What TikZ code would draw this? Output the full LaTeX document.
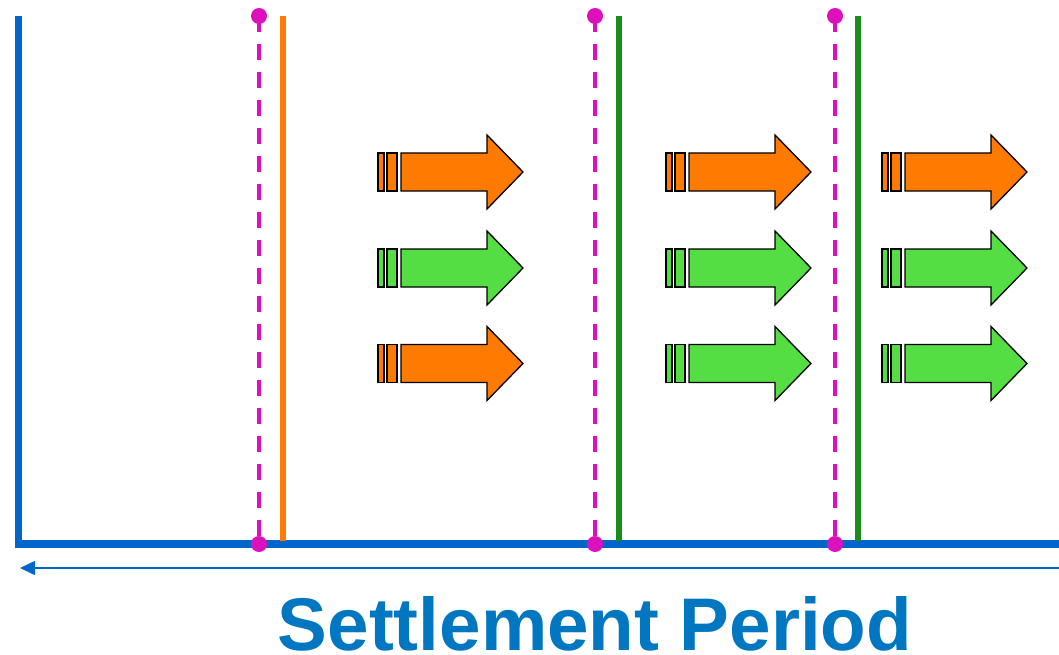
\documentclass[tikz,border=0pt]{standalone}
\usepackage{fontspec}
\setmainfont{Liberation Sans}
\usetikzlibrary{arrows.meta}

\definecolor{axisblue}{HTML}{0066CC}
\definecolor{titleblue}{HTML}{0077C0}
\definecolor{markmagenta}{HTML}{DD11BB}
\definecolor{cutorange}{HTML}{FF7A00}
\definecolor{cutgreen}{HTML}{1A8C1A}
\definecolor{floworange}{HTML}{FF7A00}
\definecolor{flowgreen}{HTML}{55DD44}

\tikzset{
  axis/.style={draw=axisblue, line width=7.5pt},
  timeline/.style={draw=axisblue, line width=1.6pt, -{Triangle[length=15pt,width=14pt]}},
  marker/.style={draw=markmagenta, line width=4pt, dash pattern=on 16pt off 12pt},
  markdot/.style={fill=markmagenta, draw=none},
  cutline/.style={line width=6pt},
  flowpart/.style={draw=black, line width=1.3pt, line join=miter},
  flow/.pic={
    \path[flowpart, fill=#1] (0,-19) rectangle (6,19);
    \path[flowpart, fill=#1] (9,-19) rectangle (19,19);
    \path[flowpart, fill=#1] (23,-19) -- (109,-19) -- (109,-37) -- (145,0)
      -- (109,37) -- (109,19) -- (23,19) -- cycle;
  },
  title/.style={text=titleblue, font=\fontsize{74.6}{74.6}\selectfont\bfseries,
    inner sep=0pt, text depth=0pt, anchor=base}
}

\begin{document}
\begin{tikzpicture}[x=1pt, y=-1pt]
  \useasboundingbox (0,0) rectangle (1059,655);

  % axes
  \coordinate (origin) at (18.5,544);
  \coordinate (top) at (18.5,16);
  \coordinate (right) at (1059,544);
  \draw[axis] (top) -- ([yshift=3.75pt]origin);
  \draw[axis] ([xshift=-3.75pt]origin) -- (right);

  % direction of the settlement period
  \coordinate (tlstart) at (1059,568);
  \coordinate (tlend) at (20,568);
  \draw[timeline] (tlstart) -- (tlend);

  % cut-off lines
  \foreach \x/\c in {283/cutorange, 619/cutgreen, 858/cutgreen} {
    \draw[cutline, draw=\c] (\x,16) -- (\x,541);
  }

  % settlement markers
  \foreach \x in {259, 595, 835} {
    \coordinate (mtop) at (\x,16);
    \coordinate (mbot) at (\x,544);
    \draw[marker] (mtop) -- (mbot);
    \fill[markdot] (mtop) circle (8pt);
    \fill[markdot] (mbot) circle (8pt);
  }

  % flows
  \foreach \x/\a/\b/\c in {378/floworange/flowgreen/floworange,
                           666/floworange/flowgreen/flowgreen,
                           882/floworange/flowgreen/flowgreen} {
    \pic at (\x,172) {flow=\a};
    \pic at (\x,268) {flow=\b};
    \pic at (\x,363.5) {flow=\c};
  }

  \node[title] (label) at (595,650) {Settlement Period};
\end{tikzpicture}
\end{document}
